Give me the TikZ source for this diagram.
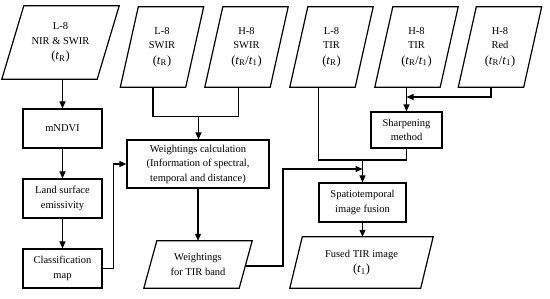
\documentclass[tikz,border=0pt]{standalone}
\usepackage{fontspec}
\setmainfont{Liberation Serif}
\usetikzlibrary{arrows.meta,positioning}

\newcommand{\tdate}[1]{{\fontsize{12.5}{14.5}\selectfont(#1)}}

\begin{document}
\begin{tikzpicture}[x=1pt, y=-1pt,
    every node/.style={font=\fontsize{10.5}{14.5}\selectfont, align=center, inner sep=0pt},
    procbox/.style={draw, line width=1.2pt, rectangle},
    databox/.style={rectangle, append after command={\pgfextra{\draw[line width=1.2pt, line join=miter]
        (\tikzlastnode.south west) -- ([xshift=-#1]\tikzlastnode.south east)
        -- (\tikzlastnode.north east) -- ([xshift=#1]\tikzlastnode.north west) -- cycle;}}},
    topbox/.style={databox=18pt, minimum width=83pt, minimum height=80pt},
    arr/.style={line width=1.2pt, -{Triangle[length=7pt, width=6pt]}},
    link/.style={line width=1.2pt}]
  \useasboundingbox (0,0) rectangle (550,299);

  % Input images
  \node[databox=22pt, minimum width=117pt, minimum height=73pt] (nir) at (60.5,42.5) {L-8\\NIR \& SWIR\\[1pt]\tdate{\textit{t}\textsubscript{R}}};
  \node[topbox] (lswir) at (162,47) {L-8\\SWIR\\[1pt]\tdate{\textit{t}\textsubscript{R}}};
  \node[topbox] (hswir) at (246.5,47) {H-8\\SWIR\\[1pt]\tdate{\textit{t}\textsubscript{R}/\textit{t}\textsubscript{1}}};
  \node[topbox] (ltir) at (331.5,47) {L-8\\TIR\\[1pt]\tdate{\textit{t}\textsubscript{R}}};
  \node[topbox] (htir) at (416.5,47) {H-8\\TIR\\[1pt]\tdate{\textit{t}\textsubscript{R}/\textit{t}\textsubscript{1}}};
  \node[topbox] (hred) at (500,47) {H-8\\Red\\[1pt]\tdate{\textit{t}\textsubscript{R}/\textit{t}\textsubscript{1}}};

  % Left column
  \node[procbox, minimum width=79pt, minimum height=39pt] (mndvi) at (62.5,128.5) {mNDVI};
  \node[procbox, minimum width=79pt, minimum height=39pt] (lse) at (62.5,198.5) {Land surface\\emissivity};
  \node[procbox, minimum width=79pt, minimum height=39pt] (class) at (62.5,268.5) {Classification\\map};

  % Weightings
  \node[procbox, minimum width=142pt, minimum height=48pt] (wcalc) at (198,164) {Weightings calculation\\(Information of spectral,\\temporal and distance)};
  \node[databox=13pt, minimum width=108pt, minimum height=47pt] (wtir) at (198,264.5) {Weightings\\for TIR band};

  % Fusion
  \node[procbox, minimum width=71pt, minimum height=36pt] (sharp) at (406.5,130) {Sharpening\\method};
  \node[procbox, minimum width=87pt, minimum height=39pt] (spat) at (362.5,202.5) {Spatiotemporal\\image fusion};
  \node[databox=12.5pt, minimum width=143pt, minimum height=51pt] (fused) at (361.5,262.5) {Fused TIR image\\[1pt]\tdate{\textit{t}\textsubscript{1}}};

  % Junctions
  \coordinate (jswir) at (198.5,116.5);
  \coordinate (jtir) at (363,160);
  \coordinate (jw) at (283,169);

  % Connectors
  \draw[arr] (nir.south -| mndvi.north) -- (mndvi.north);
  \draw[arr] (mndvi) -- (lse);
  \draw[arr] (lse) -- (class);
  \draw[arr] (class.east) -- ++(11,0) |- (wcalc.west);
  \draw[link] ([xshift=-9pt]lswir.south) |- (jswir) -| ([xshift=-8pt]hswir.south);
  \draw[arr] (jswir) -- (jswir |- wcalc.north);
  \draw[arr] (wcalc.south) -- (wcalc.south |- wtir.north);
  \draw[arr] (sharp.north |- htir.south) -- (sharp.north);
  \draw[arr] ([xshift=-9pt]hred.south) |- (sharp.north |- 0,97);
  \draw[link] ([xshift=-13pt]ltir.south) |- (sharp.south |- jtir) -- (sharp.south);
  \draw[arr] (spat.north |- jtir) -- (spat.north);
  \draw[arr] ([xshift=-6pt, yshift=-1.5pt]wtir.east) -| (jw) -- (spat.north |- jw);
  \draw[arr] (spat.south) -- (spat.south |- fused.north);
\end{tikzpicture}
\end{document}
